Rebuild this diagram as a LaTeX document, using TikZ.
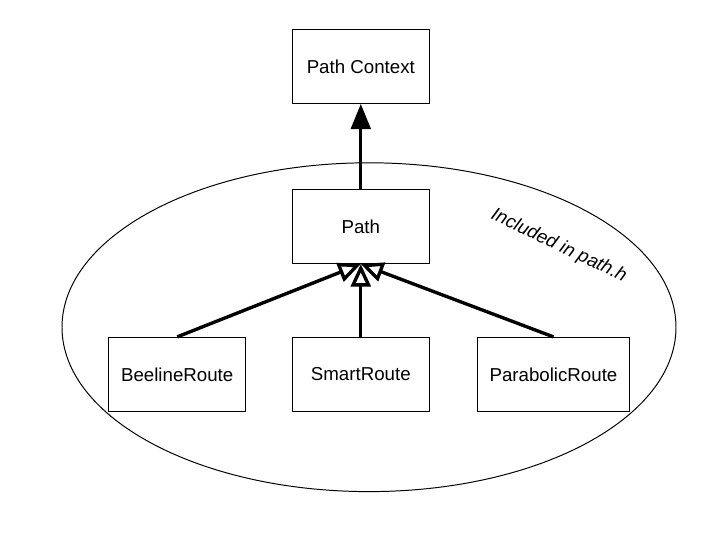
\documentclass[tikz,border=0pt]{standalone}
\usepackage{fontspec}
\setmainfont{Liberation Sans}
\usetikzlibrary{positioning, arrows.meta}

\begin{document}
\begin{tikzpicture}[
    caixa/.style={draw, line width=0.7pt, align=center, minimum width=3.425cm, minimum height=1.85cm, font=\fontsize{13.3}{16}\selectfont},
    heranca/.style={-{Triangle[open, length=16pt, width=14pt]}, line width=2.4pt},
    uso/.style={-{Triangle[length=18pt, width=14pt]}, line width=2.4pt},
    rot/.style={font=\fontsize{13.3}{16}\selectfont\itshape}
]
\useasboundingbox (0,0) rectangle (18,-13.5);
\node[caixa] (contexto) at (9.02,-1.66) {Path Context};
\node[caixa, below=2.13cm of contexto] (path) {Path};
\node[caixa, below=1.82cm of path] (smart) {SmartRoute};
\node[caixa, left=1.14cm of smart] (beeline) {BeelineRoute};
\node[caixa, right=1.18cm of smart, minimum width=3.8cm] (parabolic) {ParabolicRoute};
\draw[line width=0.7pt] (9.225,-8.18) ellipse [x radius=7.675cm, y radius=4.11cm];
\node[rot, rotate=-25.5, anchor=base] (incluido) at (13.92,-6.26) {Included in path.h};
\draw[uso] (path) -- (contexto);
\draw[heranca] (beeline.north) -- (path.south);
\draw[heranca] (smart.north) -- (path.south);
\draw[heranca] (parabolic.north) -- (path.south);
\end{tikzpicture}
\end{document}
